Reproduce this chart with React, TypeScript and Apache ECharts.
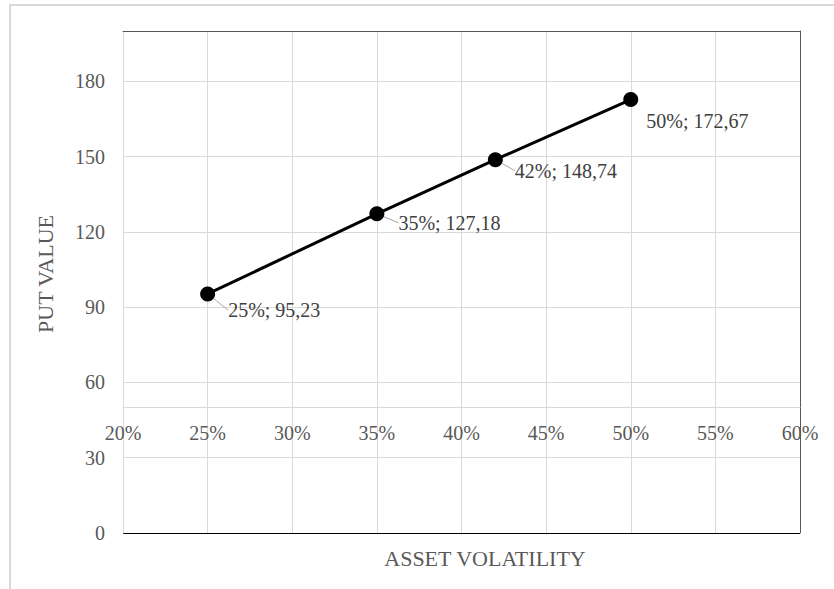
import React, { useEffect, useRef } from "react";
import * as echarts from "echarts";

const volatility = [25, 35, 42, 50];
const putValues = [95.23, 127.18, 148.74, 172.67];
const xTicks = { min: 20, max: 60, interval: 5 };
const yTicks = { min: 0, max: 200, interval: 30 };
const xAxisCrossesAt = 50;
const labelOffsets = [
  [13, 16],
  [14, 9],
  [12, 11],
  [8, 21],
];
const showLeader = [true, true, true, false];

const FONT = "'Liberation Serif', 'Times New Roman', serif";

export default function App() {
  const ref = useRef<HTMLDivElement>(null);
  useEffect(() => {
    if (!ref.current) return;
    const chart = echarts.init(ref.current, undefined, { renderer: "svg" });
    const gridTop = 31;
    const gridBottom = 56;
    const gridHeight = 589 - gridTop - gridBottom;
    const xOffset =
      (-gridHeight * (xAxisCrossesAt - yTicks.min)) / (yTicks.max - yTicks.min);
    const fmt = (v: number) => v.toFixed(2).replace(".", ",");
    const data = volatility.map((x, i) => ({
      value: [x, putValues[i]],
      labelLine: { show: showLeader[i] },
    }));
    chart.setOption({
      animation: false,
      textStyle: { fontFamily: FONT },
      graphic: [
        {
          type: "rect",
          shape: { x: 10, y: 5, width: 2000, height: 2000 },
          style: { fill: "none", stroke: "#d9d9d9", lineWidth: 2 },
          silent: true,
        },
      ],
      grid: { left: 123, right: 34, top: gridTop, bottom: gridBottom },
      xAxis: [
        {
          type: "value",
          min: xTicks.min,
          max: xTicks.max,
          interval: xTicks.interval,
          offset: xOffset,
          axisLine: { show: true, onZero: false, lineStyle: { color: "#d9d9d9", width: 1 } },
          axisTick: { show: false },
          axisLabel: {
            formatter: (v: number) => `${v}%`,
            color: "#595959",
            fontSize: 20,
            fontFamily: FONT,
            margin: 15,
          },
          splitLine: { show: true, lineStyle: { color: "#d9d9d9", width: 1 } },
          name: "ASSET VOLATILITY",
          nameLocation: "middle",
          nameGap: 140,
          nameTextStyle: {
            color: "#595959",
            fontSize: 22,
            fontFamily: FONT,
            padding: [0, 0, 0, 47],
          },
        },
        {
          type: "value",
          position: "top",
          min: xTicks.min,
          max: xTicks.max,
          interval: xTicks.interval,
          axisLine: { show: true, onZero: false, lineStyle: { color: "#595959", width: 1 } },
          axisTick: { show: false },
          axisLabel: { show: false },
          splitLine: { show: false },
        },
      ],
      yAxis: [
        {
          type: "value",
          min: yTicks.min,
          max: yTicks.max,
          interval: yTicks.interval,
          axisLine: { show: true, lineStyle: { color: "#d9d9d9", width: 1 } },
          axisTick: { show: false },
          axisLabel: {
            color: "#595959",
            fontSize: 20,
            fontFamily: FONT,
            margin: 18,
            showMaxLabel: false,
            formatter: (v: number) => (v % yTicks.interval === 0 ? String(v) : ""),
          },
          splitLine: {
            show: true,
            lineStyle: {
              color: [
                "#000000",
                "#d9d9d9",
                "#d9d9d9",
                "#d9d9d9",
                "#d9d9d9",
                "#d9d9d9",
                "#d9d9d9",
                "#595959",
              ],
              width: 1,
            },
          },
          name: "PUT VALUE",
          nameLocation: "middle",
          nameGap: 67,
          nameTextStyle: {
            color: "#595959",
            fontSize: 22,
            fontFamily: FONT,
            padding: [0, 0, 0, 16],
          },
        },
        {
          type: "value",
          position: "right",
          min: yTicks.min,
          max: yTicks.max,
          interval: yTicks.interval,
          axisLine: { show: true, lineStyle: { color: "#595959", width: 1 } },
          axisTick: { show: false },
          axisLabel: { show: false },
          splitLine: { show: false },
        },
      ],
      series: [
        {
          type: "line",
          data,
          symbol: "circle",
          symbolSize: 15,
          itemStyle: { color: "#000000" },
          lineStyle: { color: "#000000", width: 3 },
          label: {
            show: true,
            position: "right",
            distance: 0,
            color: "#404040",
            fontSize: 20,
            fontFamily: FONT,
            formatter: (p: any) => `${p.value[0]}%; ${fmt(p.value[1])}`,
          },
          labelLayout: (p: any) => ({
            dx: labelOffsets[p.dataIndex][0],
            dy: labelOffsets[p.dataIndex][1],
          }),
          labelLine: {
            show: true,
            length2: 0,
            lineStyle: { color: "#a6a6a6", width: 1 },
          },
        },
      ],
    });
    return () => chart.dispose();
  }, []);
  return (
    <div style={{ position: "fixed", left: 0, top: 0, width: 834, height: 589, overflow: "hidden", background: "#fff" }}>
      <div ref={ref} style={{ width: 834, height: 589 }} />
    </div>
  );
}
